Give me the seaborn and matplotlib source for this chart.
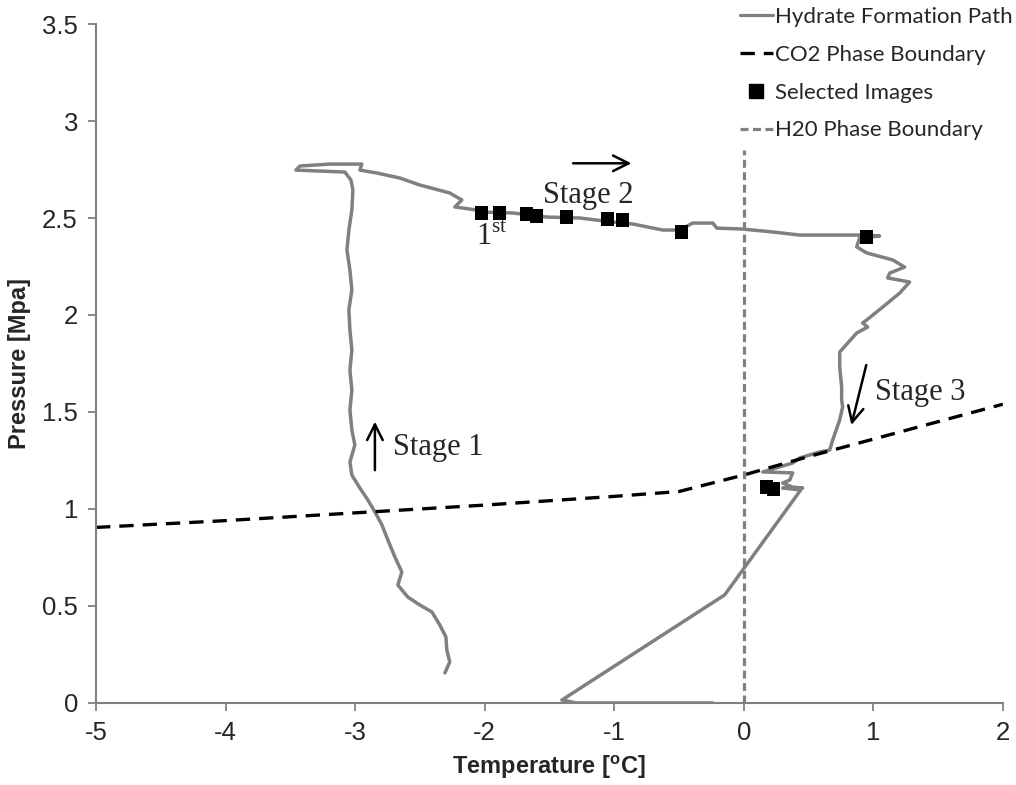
import numpy as np
import pandas as pd
import seaborn as sns
import matplotlib.pyplot as plt
from matplotlib.lines import Line2D

# hydrate formation path (temperature in C, pressure in MPa) in drawing order
path_t = [-2.307, -2.269, -2.292, -2.299, -2.346, -2.407, -2.500, -2.593, -2.670, -2.639,
          -2.693, -2.747, -2.793, -2.847, -2.901, -2.963, -3.025, -3.040, -3.002, -3.025,
          -3.040, -3.025, -3.040, -3.025, -3.040, -3.048, -3.025, -3.040, -3.063, -3.048,
          -3.025, -3.017, -3.032,
          -3.079, -3.272, -3.457, -3.426, -3.194, -2.948, -2.963, -2.832, -2.654, -2.500,
          -2.269, -2.176, -2.230, -2.060,
          -2.037, -1.782, -1.520, -1.265, -1.011, -0.856, -0.625, -0.494, -0.394, -0.239,
          -0.208, -0.008, 0.224, 0.432, 0.687, 0.949, 1.049, 0.895, 0.872, 0.949, 1.150,
          1.242, 1.127, 1.111, 1.281, 1.204, 1.073, 0.949, 0.918, 0.957, 0.872, 0.741,
          0.741, 0.756, 0.756, 0.764, 0.741, 0.687, 0.664, 0.586, 0.432, 0.378, 0.147,
          0.378, 0.355, 0.301, 0.378, 0.455, 0.301, 0.440,
          -0.147, -1.404, -1.289, -0.239]
path_p = [0.155, 0.211, 0.273, 0.340, 0.402, 0.469, 0.505, 0.546, 0.608, 0.675,
          0.753, 0.840, 0.918, 0.985, 1.046, 1.108, 1.175, 1.242, 1.330, 1.407,
          1.510, 1.613, 1.716, 1.820, 1.923, 2.026, 2.129, 2.232, 2.335, 2.438,
          2.541, 2.644, 2.696,
          2.737, 2.742, 2.747, 2.768, 2.778, 2.778, 2.747, 2.732, 2.706, 2.670,
          2.629, 2.593, 2.557, 2.541,
          2.531, 2.526, 2.505, 2.500, 2.479, 2.469, 2.438, 2.438, 2.474, 2.474,
          2.448, 2.443, 2.428, 2.412, 2.412, 2.412, 2.407, 2.397, 2.351, 2.320, 2.284,
          2.247, 2.216, 2.191, 2.170, 2.113, 2.041, 1.974, 1.959, 1.938, 1.907, 1.809,
          1.732, 1.629, 1.562, 1.526, 1.459, 1.356, 1.304, 1.294, 1.263, 1.237, 1.191,
          1.186, 1.149, 1.134, 1.113, 1.108, 1.108, 1.098,
          0.557, 0.015, 0.000, 0.000]

# selected images
img_t = [-2.022, -1.883, -1.674, -1.597, -1.366, -1.049, -0.934, -0.478, 0.949, 0.177, 0.231]
img_p = [2.526, 2.526, 2.521, 2.510, 2.505, 2.495, 2.490, 2.428, 2.402, 1.113, 1.103]

# CO2 phase boundary
co2_t = [-5, -4, -3, -2, -1, -0.5, 0, 0.5, 1, 1.5, 2]
co2_p = [0.905, 0.94, 0.98, 1.02, 1.065, 1.09, 1.175, 1.27, 1.36, 1.45, 1.54]

# H2O phase boundary
h2o_t = [0, 0]
h2o_p = [0, 2.85]

labels = ['Hydrate Formation Path', 'CO2 Phase Boundary', 'Selected Images', 'H20 Phase Boundary']

sns.set_style('white')
plt.rcParams['font.family'] = ['Liberation Sans', 'DejaVu Sans']
plt.rcParams['mathtext.fontset'] = 'custom'
plt.rcParams['mathtext.rm'] = 'Liberation Serif'
plt.rcParams['mathtext.bf'] = 'Liberation Sans:bold'

gray = '#808080'
fig, ax = plt.subplots(figsize=(10.16, 7.85), dpi=100)
fig.subplots_adjust(left=0.0945, right=0.987, bottom=0.1045, top=0.9694)

path_df = pd.DataFrame({'T': path_t, 'P': path_p})
sns.lineplot(data=path_df, x='T', y='P', sort=False, estimator=None, color=gray, lw=2.5, ax=ax)
sns.lineplot(x=co2_t, y=co2_p, sort=False, estimator=None, color='black', lw=2.4,
             linestyle=(0, (4.3, 2.7)), ax=ax)
sns.lineplot(x=h2o_t, y=h2o_p, sort=False, estimator=None, color=gray, lw=2.3,
             linestyle=(0, (2.5, 1.4)), ax=ax)
sns.scatterplot(x=img_t, y=img_p, marker='s', color='black', s=90, edgecolor='none', zorder=5, ax=ax)

ax.set_xlim(-5, 2)
ax.set_ylim(0, 3.5)
ax.set_xticks(np.arange(-5, 3, 1))
ax.set_yticks(np.arange(0, 3.51, 0.5))
ax.set_xticklabels(['-5', '-4', '-3', '-2', '-1', '0', '1', '2'])
ax.set_yticklabels(['0', '0.5', '1', '1.5', '2', '2.5', '3', '3.5'])
ax.tick_params(axis='both', direction='out', length=6, width=1.3, color=gray, labelsize=18.5,
               pad=7, bottom=True, left=True)
for side in ['top', 'right']:
    ax.spines[side].set_visible(False)
for side in ['left', 'bottom']:
    ax.spines[side].set_color(gray)
    ax.spines[side].set_linewidth(1.5)

ax.set_xlabel(r'Temperature [$^{\mathbf{o}}$C]', fontsize=17, fontweight='bold', labelpad=6)
ax.set_ylabel('Pressure [Mpa]', fontsize=17, fontweight='bold', labelpad=8)

# stage annotations
arrow = dict(arrowstyle='->', color='black', lw=1.8, mutation_scale=28, shrinkA=0, shrinkB=0)
ax.annotate('', xy=(-2.847, 1.45), xytext=(-2.847, 1.20), arrowprops=arrow)
ax.annotate('', xy=(-0.867, 2.782), xytext=(-1.317, 2.782), arrowprops=arrow)
ax.annotate('', xy=(0.831, 1.433), xytext=(0.946, 1.742), arrowprops=arrow)
serif = ['Liberation Serif', 'DejaVu Serif']
ax.text(-2.708, 1.278, 'Stage 1', family=serif, fontsize=22, va='baseline')
ax.text(-1.551, 2.579, 'Stage 2', family=serif, fontsize=22, va='baseline')
ax.text(1.011, 1.562, 'Stage 3', family=serif, fontsize=22, va='baseline')
ax.text(-2.063, 2.361, r'1$^{\mathrm{st}}$', family=serif, fontsize=22, va='baseline')

handles = [Line2D([], [], color=gray, lw=2.3),
           Line2D([], [], color='black', lw=2.4, linestyle=(0, (4.3, 2.7))),
           Line2D([], [], color='black', marker='s', markersize=9.5, linestyle='none'),
           Line2D([], [], color=gray, lw=2.3, linestyle=(0, (2.5, 1.4)))]
fig.legend(handles, labels, loc='upper left', bbox_to_anchor=(0.728, 0.991), frameon=False,
           prop={'family': ['Lato', 'DejaVu Sans'], 'size': 16}, handlelength=1.5,
           handletextpad=0.1, labelspacing=0.8, borderpad=0, borderaxespad=0)

fig.savefig('out.png', dpi=100)
